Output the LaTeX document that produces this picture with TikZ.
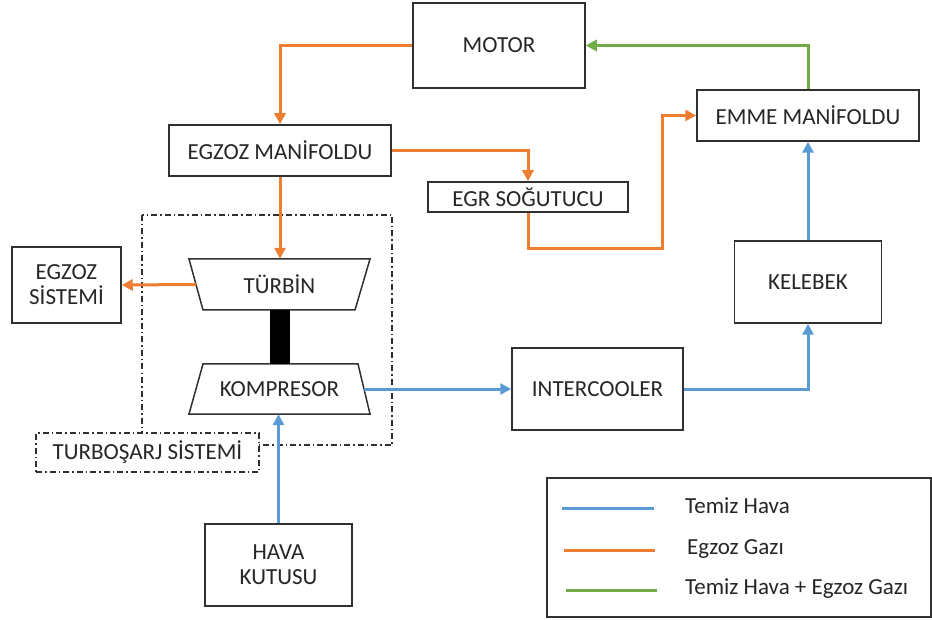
\documentclass[tikz,border=0pt]{standalone}
\usepackage{fontspec}
\setmainfont{Carlito}
\usetikzlibrary{arrows.meta,calc}
\definecolor{cblue}{HTML}{5B9BD5}
\definecolor{corange}{HTML}{ED7D31}
\definecolor{cgreen}{HTML}{70AD47}
\definecolor{cbox}{HTML}{303030}
\definecolor{ctext}{HTML}{262626}
\begin{document}
\begin{tikzpicture}[x=1pt,y=-1pt,
  box/.style={draw=cbox,line width=1.5pt,fill=white,rectangle,inner sep=0pt,align=center,text=ctext,font=\fontsize{23}{27}\selectfont},
  plain/.style={inner sep=0pt,align=center,text=ctext,font=\fontsize{23}{27}\selectfont},
  flow/.style={line width=3pt,-{Triangle[length=11pt,width=11pt]}},
  ddot/.style={draw=cbox,line width=1.3pt,dash pattern=on 6pt off 3pt on 1.5pt off 3pt}]
\useasboundingbox (0,0) rectangle (932,620);
% turbo system enclosure
\draw[ddot] (142,215) rectangle (392,445);
% nodes
\node[box,minimum width=172pt,minimum height=85pt] (motor) at (499,45.5) {MOTOR};
\node[box,minimum width=222pt,minimum height=51pt] (egzman) at (280,150.5) {EGZOZ MAN\.IFOLDU};
\node[box,minimum width=200pt,minimum height=30pt] (egr) at (528,197) {EGR SO\u{G}UTUCU};
\node[box,minimum width=222pt,minimum height=51pt] (emme) at (808,115.5) {EMME MAN\.IFOLDU};
\node[box,minimum width=147pt,minimum height=82pt] (kelebek) at (808,282) {KELEBEK};
\node[box,minimum width=171pt,minimum height=82pt] (inter) at (597.5,389) {INTERCOOLER};
\node[box,minimum width=109pt,minimum height=76pt] (egzsis) at (66.5,285) {EGZOZ\\[-2pt]S\.ISTEM\.I};
\node[box,minimum width=147pt,minimum height=82pt] (hava) at (278.5,565) {HAVA\\[-2pt]KUTUSU};
\node[box,ddot,minimum width=223pt,minimum height=39pt] (tsis) at (147.5,452.5) {TURBO\c{S}ARJ S\.ISTEM\.I};
% turbine and compressor trapezoids
\coordinate (t1) at (189,259); \coordinate (t2) at (370,259);
\coordinate (t3) at (355,310); \coordinate (t4) at (203,310);
\draw[draw=cbox,line width=1.5pt,fill=white] (t1) -- (t2) -- (t3) -- (t4) -- cycle;
\node[plain,minimum width=152pt,minimum height=51pt] (turbin) at (279.5,284.5) {T\"URB\.IN};
\coordinate (k1) at (203,364); \coordinate (k2) at (358,364);
\coordinate (k3) at (370,414); \coordinate (k4) at (189,414);
\draw[draw=cbox,line width=1.5pt,fill=white] (k1) -- (k2) -- (k3) -- (k4) -- cycle;
\node[plain,minimum width=155pt,minimum height=50pt] (komp) at (279.5,389) {KOMPRESOR};
\coordinate (tleft) at ($(t1)!0.5!(t4)$);
\coordinate (kright) at ($(k2)!0.5!(k3)$);
% shaft
\fill[black] (270,310) rectangle (290,364);
% flows
\draw[flow,corange] (motor.west) -| (egzman.north);
\draw[flow,corange] (egzman.south) -- (egzman.south |- turbin.north);
\draw[flow,corange] (tleft) -- (egzsis.east);
\draw[flow,corange] (egzman.east) -| (egr.north);
\coordinate (egrturn) at (662,249);
\draw[flow,corange] (egr.south) |- (egrturn) |- (emme.west);
\draw[flow,cgreen] (emme.north) |- (motor.east);
\draw[flow,cblue] (hava.north) -- (hava.north |- komp.south);
\draw[flow,cblue] (kright) -- (inter.west);
\draw[flow,cblue] (inter.east) -| (kelebek.south);
\draw[flow,cblue] (kelebek.north) -- (emme.south);
% legend
\node[box,minimum width=384pt,minimum height=139pt] (legend) at (739,547.5) {};
\coordinate (l1a) at (562,508); \coordinate (l1b) at (654,508);
\coordinate (l2a) at (564,550); \coordinate (l2b) at (655,550);
\coordinate (l3a) at (566,590); \coordinate (l3b) at (657,590);
\draw[cblue,line width=3pt] (l1a) -- (l1b);
\draw[corange,line width=3pt] (l2a) -- (l2b);
\draw[cgreen,line width=3pt] (l3a) -- (l3b);
\node[plain,anchor=west] (lt1) at (685,506) {Temiz Hava};
\node[plain,anchor=west] (lt2) at (687,549) {Egzoz Gaz\i};
\node[plain,anchor=west] (lt3) at (685,589) {Temiz Hava + Egzoz Gaz\i};
\end{tikzpicture}
\end{document}
